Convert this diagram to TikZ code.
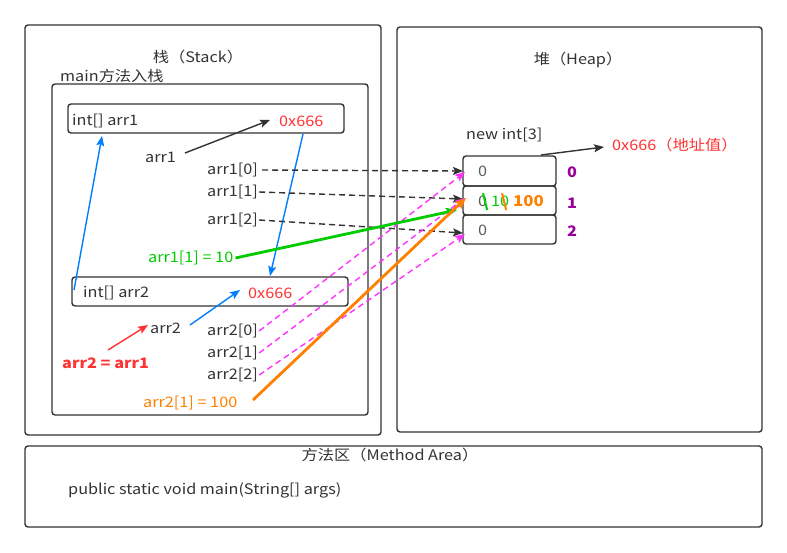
\documentclass[tikz,border=0pt]{standalone}
\usepackage{fontspec}
\setmainfont{Noto Sans CJK SC}[FakeStretch=1.12]
\usetikzlibrary{arrows.meta,fit}
\definecolor{ink}{HTML}{333333}
\definecolor{bl}{HTML}{007FFF}
\definecolor{rd}{HTML}{FF3333}
\definecolor{gr}{HTML}{00CC00}
\definecolor{og}{HTML}{FF8000}
\definecolor{mg}{HTML}{FF33FF}
\definecolor{pu}{HTML}{990099}
\begin{document}
\begin{tikzpicture}[x=1pt,y=-1pt,
  font=\fontsize{14.5}{17}\selectfont,
  box/.style={draw=ink, line width=1.4pt, rounded corners=3pt, inner sep=0pt},
  txt/.style={inner sep=0pt, text=ink, anchor=west},
  ctxt/.style={inner sep=0pt, text=ink},
  strike/.style={inner sep=0pt, font=\fontsize{17}{17}\selectfont\bfseries},
  ar/.style={-{Stealth[length=10pt,width=8pt,inset=2pt]}, line width=1.4pt},
  dsh/.style={ar, dash pattern=on 6pt off 4pt},
  thick arrow/.style={-{Stealth[length=11pt,width=9pt,inset=2pt]}, line width=2.8pt},
  idx/.style={inner sep=0pt, text=pu, font=\fontsize{14.5}{17}\selectfont\bfseries}]
\useasboundingbox (0,0) rectangle (787,553);
\fill[white] (0,0) rectangle (787,553);

% containers
\node[box, fit={(25,25) (381,435)}] (stack) {};
\node[box, fit={(397,27) (762,432)}] (heap) {};
\node[box, fit={(25,446) (762,527)}] (method) {};
\node[box, fit={(52,84) (368,415)}] (mainf) {};
\node[box, fit={(68,104) (344,133)}] (b1) {};
\node[box, fit={(72,277) (348,306)}] (b2) {};
\node[box, fit={(463,156) (556,186)}] (c0) {};
\node[box, fit={(463,186) (556,215)}] (c1) {};
\node[box, fit={(463,215) (556,244)}] (c2) {};

% titles
\node[ctxt] (tstack) at (198,57) {栈（Stack）};
\node[txt] (tmain) at (60,76) {main方法入栈};
\node[ctxt] (theap) at (578,60) {堆（Heap）};
\node[ctxt] (tmeth) at (390,455) {方法区（Method Area）};
\node[txt] (tpsvm) at (68,490) {public static void main(String[] args)};

% stack content
\node[txt] (n1) at (72,121) {int[] arr1};
\node[txt, text=rd] (v1) at (279,121) {0x666};
\node[txt] (n2) at (83,293) {int[] arr2};
\node[txt, text=rd] (v2) at (248,293) {0x666};
\node[txt] (l1) at (145,157) {arr1};
\node[txt] (a10) at (207,170) {arr1[0]};
\node[txt] (a11) at (207,192) {arr1[1]};
\node[txt] (a12) at (207,220) {arr1[2]};
\node[txt, text=gr] (g1) at (148,258) {arr1[1] = 10};
\node[txt] (l2) at (150,328) {arr2};
\node[txt, text=rd, font=\fontsize{14.5}{17}\selectfont\bfseries] (asg) at (62,363) {arr2 = arr1};
\node[txt] (a20) at (207,331) {arr2[0]};
\node[txt] (a21) at (207,353) {arr2[1]};
\node[txt] (a22) at (207,375) {arr2[2]};
\node[txt, text=og] (o1) at (143,403) {arr2[1] = 100};

% heap content
\node[txt] (newi) at (466,135) {new int[3]};
\node[txt, text=rd] (addr) at (612,145) {0x666（地址值）};
\node[txt, text=ink!80] (z0) at (478,171) {0};
\node[txt, text=ink!80] (z1) at (478,201) {0};
\node[txt, text=gr] (t10) at (491,201) {10};
\node[strike, text=gr] (s1) at (485,202) {\textbackslash};
\node[strike, text=og] (s2) at (504,202) {\textbackslash};
\node[txt, text=og, font=\fontsize{15}{17}\selectfont\bfseries] (t100) at (513,201) {100};
\node[txt, text=ink!80] (z2) at (478,230) {0};
\node[idx] (i0) at (572,172) {0};
\node[idx] (i1) at (572,203) {1};
\node[idx] (i2) at (572,231) {2};

% connector points
\coordinate (p1s) at (185,153);
\coordinate (p1e) at (270,120);
\coordinate (pbs) at (303,134);
\coordinate (pbe) at (270,276);
\coordinate (pls) at (74,290);
\coordinate (ple) at (102,136);
\coordinate (p2s) at (190,325);
\coordinate (p2e) at (240,290);
\coordinate (prs) at (108,350);
\coordinate (pre) at (148,325);
\coordinate (h0) at (463,171);
\coordinate (h1) at (463,199);
\coordinate (h2) at (463,233);
\coordinate (m0) at (465,172);
\coordinate (m1) at (465,198);
\coordinate (m2) at (465,234);
\coordinate (ge) at (457,210);
\coordinate (oe) at (466,198);
\coordinate (os) at (253,400);
\coordinate (hs) at (541,155);
\coordinate (he) at (604,147);

% connectors
\draw[ar, ink] (p1s) -- (p1e);
\draw[ar, bl] (pbs) -- (pbe);
\draw[ar, bl] (pls) -- (ple);
\draw[ar, bl] (p2s) -- (p2e);
\draw[ar, rd] (prs) -- (pre);
\draw[dsh, ink] ([xshift=4pt]a10.east) -- (h0);
\draw[dsh, ink] ([xshift=1pt]a11.east) -- (h1);
\draw[dsh, ink] ([xshift=1pt]a12.east) -- (h2);
\draw[dsh, mg] ([xshift=1pt]a20.east) -- (m0);
\draw[dsh, mg] ([xshift=1pt]a21.east) -- (m1);
\draw[dsh, mg] ([xshift=1pt]a22.east) -- (m2);
\draw[thick arrow, gr] ([xshift=2pt]g1.east) -- (ge);
\draw[thick arrow, og] (os) -- (oe);
\draw[ar, ink] (hs) -- (he);
\end{tikzpicture}
\end{document}
